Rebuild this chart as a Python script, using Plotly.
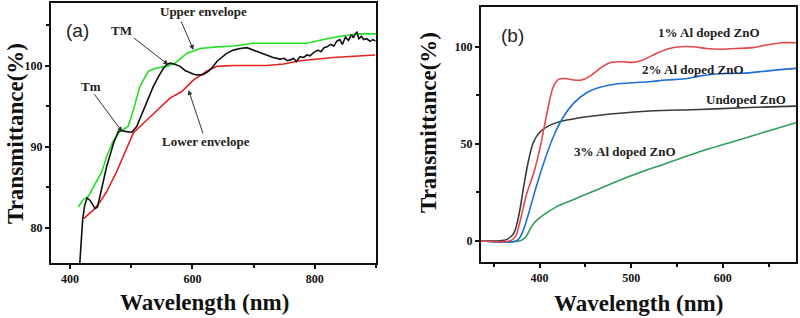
import plotly.graph_objects as go

# ---------------- Panel (a) data ----------------
a_meas_x = [416, 418, 420.7, 424, 428, 433, 437, 441, 445, 449, 455, 460, 466, 471, 479, 484, 490, 496, 501, 509,
            520, 528, 536, 545, 553, 558, 563, 570, 580, 588, 596, 603, 610, 618, 626, 633, 640, 648, 656, 667,
            678, 689, 700, 710, 721, 732, 743, 750, 755, 760, 765, 770, 776, 782, 787, 792, 798, 805, 810, 815,
            820, 826, 831, 836, 841, 845, 850, 855, 860, 863, 866, 869, 872, 876, 880, 885, 890, 895, 899]
a_meas_y = [75.6, 78.5, 81.0, 82.8, 83.7, 83.4, 82.8, 82.4, 82.6, 83.9, 85.8, 87.6, 89.1, 90.4, 91.9, 92.0, 91.9, 91.8, 91.8, 92.5,
            94.5, 95.9, 97.4, 98.7, 99.7, 100.1, 100.3, 100.2, 99.9, 99.4, 99.1, 98.9, 98.85, 98.9, 99.3, 99.8, 100.5, 101.0, 101.5, 101.9,
            102.1, 102.2, 101.9, 101.6, 101.3, 101.0, 100.8, 100.9, 100.6, 100.7, 100.9, 100.5, 101.1, 101.0, 101.3, 101.2, 101.6, 101.9, 101.7, 102.2,
            102.3, 102.6, 102.4, 103.0, 103.2, 102.6, 103.5, 103.1, 103.8, 103.4, 103.9, 104.1, 103.3, 103.6, 103.2, 103.3, 103.0, 103.2, 103.0]

a_upper_x = [413.6, 421.8, 430, 443.6, 451.8, 460, 471, 482, 495, 503.5, 514, 528, 541.7, 558, 571.7, 590.7, 612.5,
             640, 667, 700, 749, 787, 814, 841, 874, 900]
a_upper_y = [82.6, 83.5, 83.9, 85.7, 86.9, 88.8, 90.8, 91.9, 92.5, 94.5, 97.4, 99.3, 99.7, 99.9, 100.3, 101.5, 102.1,
             102.3, 102.4, 102.75, 102.75, 102.75, 103.2, 103.6, 103.9, 103.9]

a_lower_x = [422.9, 438, 449, 460, 476, 492.6, 503.5, 520, 541.7, 563.5, 582.6, 601.6, 623.4, 640, 667, 721.5,
             749, 776, 830, 898.6]
a_lower_y = [81.2, 82.2, 83.2, 84.5, 86.9, 89.8, 91.7, 92.9, 94.5, 96.0, 96.8, 98.2, 99.3, 99.9, 100.0, 100.0,
             100.2, 100.6, 101.0, 101.3]

a_x_ticks = [400, 600, 800]
a_y_ticks = [80, 90, 100]

# ---------------- Panel (b) data ----------------
b_undoped_x = [336, 357, 364.5, 371.7, 377, 382.6, 388, 393.5, 400.7, 411.6, 429.7, 451.4, 484, 520, 574.6, 629, 680]
b_undoped_y = [0, 0, 0.7, 3.8, 12.4, 27.9, 41.7, 51.1, 56.3, 59.7, 62.3, 64.0, 65.7, 67.0, 67.8, 68.8, 69.5]

b_al1_x = [336, 368, 373.5, 379, 386, 393.5, 400.7, 408, 415, 420.7, 428, 437, 446, 455, 466, 476.8, 491, 502,
           513, 524, 538, 553, 567.4, 582, 596, 614.5, 632.6, 647, 665, 680]
b_al1_y = [0, 0, 2.1, 10.7, 24.4, 34.8, 48.5, 65.7, 79.5, 83.3, 83.8, 83.0, 83.0, 85.0, 89.0, 91.9, 92.4, 92.1,
           93.3, 95.9, 98.8, 100.2, 100.2, 99.3, 98.9, 99.3, 99.7, 101.0, 102.2, 102.2]

b_al2_x = [336, 375, 380.8, 388, 395.3, 404.3, 415, 426, 437, 451.4, 466, 484, 502, 520, 538, 556.5, 574.6,
           592.8, 611, 629, 647, 680]
b_al2_y = [0, 0, 3.8, 14.1, 26.2, 39.9, 53.7, 64.0, 70.9, 76.4, 79.2, 80.9, 81.6, 82.1, 83.0, 83.5, 85.0,
           86.1, 86.4, 86.7, 87.6, 89.0]

b_al3_x = [336, 379, 384.4, 393.5, 404.3, 418.8, 440.6, 466, 502, 538, 574.6, 611, 647, 680]
b_al3_y = [0, 0, 1.7, 8.9, 13.3, 17.6, 21.9, 27.0, 33.9, 39.9, 46.0, 51.1, 56.3, 60.9]

b_x_ticks = [400, 500, 600]
b_y_ticks = [0, 50, 100]

SERIF = "Liberation Serif"
W, H = 800, 318

fig = go.Figure()
lw = 1.6
fig.add_trace(go.Scatter(x=a_upper_x, y=a_upper_y, mode="lines", line=dict(color="#22e022", width=lw),
                         xaxis="x", yaxis="y", showlegend=False))
fig.add_trace(go.Scatter(x=a_lower_x, y=a_lower_y, mode="lines", line=dict(color="#e4231f", width=lw),
                         xaxis="x", yaxis="y", showlegend=False))
fig.add_trace(go.Scatter(x=a_meas_x, y=a_meas_y, mode="lines", line=dict(color="#111111", width=lw),
                         xaxis="x", yaxis="y", showlegend=False))

fig.add_trace(go.Scatter(x=b_al3_x, y=b_al3_y, mode="lines", line=dict(color="#2e9e5a", width=lw, shape="spline"),
                         xaxis="x2", yaxis="y2", showlegend=False))
fig.add_trace(go.Scatter(x=b_undoped_x, y=b_undoped_y, mode="lines", line=dict(color="#3a3a3a", width=lw, shape="spline"),
                         xaxis="x2", yaxis="y2", showlegend=False))
fig.add_trace(go.Scatter(x=b_al2_x, y=b_al2_y, mode="lines", line=dict(color="#1f6fd8", width=lw, shape="spline"),
                         xaxis="x2", yaxis="y2", showlegend=False))
fig.add_trace(go.Scatter(x=b_al1_x, y=b_al1_y, mode="lines", line=dict(color="#e8474a", width=lw, shape="spline"),
                         xaxis="x2", yaxis="y2", showlegend=False))

tickfont = dict(family=SERIF, size=12, color="#111", weight="bold")
common = dict(showgrid=False, zeroline=False, showline=True, linecolor="#111", linewidth=2, mirror=True,
              ticks="outside", ticklen=4, tickwidth=1.5, tickcolor="#111", tickfont=tickfont)

def px(x0, x1):
    return [x0 / W, x1 / W]

def py(top, bottom):
    return [1 - bottom / H, 1 - top / H]

fig.update_layout(
    width=W, height=H, margin=dict(l=0, r=0, t=0, b=0),
    paper_bgcolor="white", plot_bgcolor="white",
    xaxis=dict(domain=px(51, 376), range=[369, 900], tickvals=a_x_ticks,
               minor=dict(tickvals=[500, 700, 900], ticklen=3, ticks="outside", tickcolor="#111"), anchor="y", **common),
    yaxis=dict(domain=py(3, 263), range=[75.7, 107.7], tickvals=a_y_ticks,
               minor=dict(tickvals=[85, 95, 105], ticklen=3, ticks="outside", tickcolor="#111"), anchor="x", **common),
    xaxis2=dict(domain=px(481, 796), range=[336, 680], tickvals=b_x_ticks,
                minor=dict(tickvals=[350, 450, 550, 650], ticklen=3, ticks="outside", tickcolor="#111"), anchor="y2", **common),
    yaxis2=dict(domain=py(7, 262), range=[-11, 120.7], tickvals=b_y_ticks,
                minor=dict(tickvals=[25, 75], ticklen=3, ticks="outside", tickcolor="#111"), anchor="x2", **common),
)

anns = []
# axis titles
title_font = dict(family=SERIF, size=23, color="#111")
for (x, y, t, ang) in [(15, 134, "<b>Transmittance(%)</b>", -90), (204, 302, "<b>Wavelength (nm)</b>", 0),
                       (428, 123, "<b>Transmittance(%)</b>", -90), (638, 303, "<b>Wavelength (nm)</b>", 0)]:
    anns.append(dict(x=x / W, y=1 - y / H, xref="paper", yref="paper", text=t, showarrow=False,
                     textangle=ang, font=title_font, xanchor="center", yanchor="middle"))

# panel labels
anns.append(dict(x=413, y=104.27, xref="x", yref="y", text="(a)", showarrow=False,
                 font=dict(family="Liberation Sans", size=19, color="#222")))
anns.append(dict(x=370, y=106.2, xref="x2", yref="y2", text="(b)", showarrow=False,
                 font=dict(family="Liberation Sans", size=19, color="#222")))

lab_font = dict(family=SERIF, size=13, color="#222")
for (x, y, t) in [(618, 106.6, "Upper envelope"), (483.8, 104.27, "TM"), (434.6, 97.38, "Tm"),
                  (623, 90.6, "Lower envelope")]:
    anns.append(dict(x=x, y=y, xref="x", yref="y", text="<b>" + t + "</b>", showarrow=False, font=lab_font))

# arrows (head at data point, tail offset in pixels)
for (x, y, ax, ay) in [(601.8, 101.93, -13, -30), (560.8, 100.09, -36, -28),
                       (485.4, 91.85, -29, -39), (593.6, 97.0, 15, 45)]:
    anns.append(dict(x=x, y=y, xref="x", yref="y", text="", showarrow=True, ax=ax, ay=ay,
                     arrowhead=2, arrowsize=1, arrowwidth=1, arrowcolor="#333"))

for (x, y, t) in [(585, 107.3, "1% Al doped ZnO"), (567.5, 88.2, "2% Al doped ZnO"),
                  (625.3, 72.7, "Undoped ZnO"), (493.4, 46.3, "3% Al doped ZnO")]:
    anns.append(dict(x=x, y=y, xref="x2", yref="y2", text="<b>" + t + "</b>", showarrow=False, font=lab_font))

fig.update_layout(annotations=anns)
fig.write_html("out.html", config={"displayModeBar": False},
               post_script="document.body.style.margin='0px';document.body.style.overflow='hidden';")
